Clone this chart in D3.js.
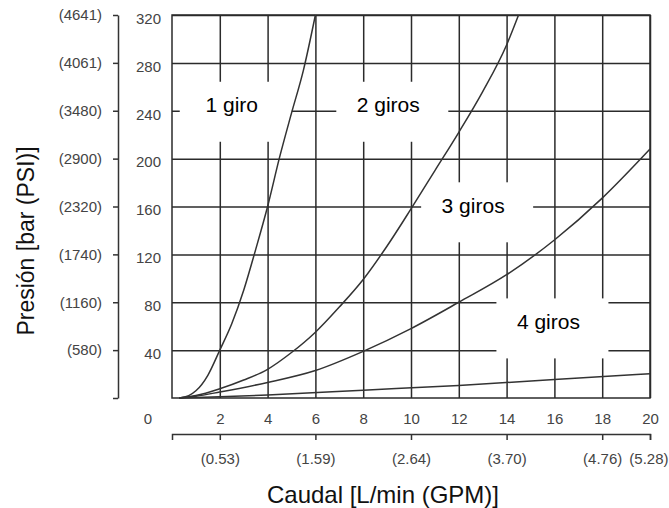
<!DOCTYPE html>
<html>
<head>
<meta charset="utf-8">
<script src="https://cdn.jsdelivr.net/npm/d3@7"></script>
<style>
  body { margin: 0; background: #fff; }
  svg { display: block; }
</style>
</head>
<body>
<svg id="chart"></svg>
<script>
// flow (L/min) vs pressure (bar) for each number of turns
const flow1 = [0.3, 0.7, 1, 1.5, 2, 2.5, 3, 3.5, 4, 4.5, 5, 5.5, 6]
const pres1 = [0, 2, 6, 19, 40, 62, 90, 124, 160, 201, 238, 274, 320]
const flow2 = [0.3, 1, 2, 3, 4, 5, 6, 7, 8, 9, 10, 11, 12, 13, 14, 14.5]
const pres2 = [0, 2, 7.7, 15, 24, 38, 55, 76, 99, 127, 158, 190, 222, 256, 295, 320]
const flow3 = [0.3, 1, 2, 4, 6, 8, 10, 12, 14, 16, 18, 20]
const pres3 = [0, 1.5, 5, 13, 23, 39, 58, 80, 103, 132, 167, 208]
const flow4 = [0.3, 2, 4, 8, 12, 16, 20]
const pres4 = [0, 1, 2.5, 6.5, 10.5, 15.5, 20.2]

const curveLabels = ["1 giro", "2 giros", "3 giros", "4 giros"]
const labelFlow = [2.5, 9.05, 12.6, 15.75] // label centre, in data units
const labelPres = [245, 245, 161, 64]

const barTicks = [40, 80, 120, 160, 200, 240, 280, 320]
const psiTicks = [0, 40, 80, 120, 160, 200, 240, 280, 320]
const psiLabels = ["", "(580)", "(1160)", "(1740)", "(2320)", "(2900)", "(3480)", "(4061)", "(4641)"]
const flowTicks = [2, 4, 6, 8, 10, 12, 14, 16, 18, 20]
const gpmTicks = [2, 6, 10, 14, 18, 20]
const gpmLabels = ["(0.53)", "(1.59)", "(2.64)", "(3.70)", "(4.76)", "(5.28)"]

const width = 669
const height = 508
const plot = { left: 172, right: 650, top: 15, bottom: 398 }

const tickFont = "'Liberation Sans', Arial, sans-serif"
const textFont = "'Liberation Sans', Arial, sans-serif"

const svg = d3.select("#chart")
    .attr("width", width)
    .attr("height", height)
    .style("background", "#fff")

const x = d3.scaleLinear().domain([0, 20]).range([plot.left, plot.right])
const y = d3.scaleLinear().domain([0, 320]).range([plot.bottom, plot.top])

// grid
svg.append("g")
    .attr("transform", `translate(0,${plot.bottom})`)
    .call(d3.axisBottom(x).tickValues(flowTicks).tickSize(-(plot.bottom - plot.top)).tickFormat(""))
    .call(g => g.select(".domain").remove())
    .selectAll("line").attr("stroke", "#2b2b2b").attr("stroke-width", 1.5)

svg.append("g")
    .attr("transform", `translate(${plot.left},0)`)
    .call(d3.axisLeft(y).tickValues(barTicks).tickSize(-(plot.right - plot.left)).tickFormat(""))
    .call(g => g.select(".domain").remove())
    .selectAll("line").attr("stroke", "#2b2b2b").attr("stroke-width", 1.5)

svg.append("rect")
    .attr("x", plot.left)
    .attr("y", plot.top)
    .attr("width", plot.right - plot.left)
    .attr("height", plot.bottom - plot.top)
    .attr("fill", "none")
    .attr("stroke", "#2b2b2b")
    .attr("stroke-width", 1.5)

// white patches behind the curve labels
const labels = curveLabels.map((t, i) => ({ text: t, cx: x(labelFlow[i]), cy: y(labelPres[i]) }))

svg.append("g").selectAll("rect")
    .data(labels)
    .enter()
    .append("rect")
    .attr("x", d => d.cx + 4 - 56)
    .attr("y", d => d.cy + 7 - 30)
    .attr("width", 112)
    .attr("height", 60)
    .attr("fill", "#fff")

// curves
const series = [[flow1, pres1], [flow2, pres2], [flow3, pres3], [flow4, pres4]]
const line = d3.line()
    .x(d => x(d[0]))
    .y(d => y(d[1]))
    .curve(d3.curveMonotoneX)

svg.append("g").selectAll("path")
    .data(series.map(s => s[0].map((f, i) => [f, s[1][i]])))
    .enter()
    .append("path")
    .attr("d", line)
    .attr("fill", "none")
    .attr("stroke", "#333")
    .attr("stroke-width", 1.5)

svg.append("g").selectAll("text")
    .data(labels)
    .enter()
    .append("text")
    .attr("x", d => d.cx)
    .attr("y", d => d.cy)
    .attr("dy", "0.35em")
    .attr("text-anchor", "middle")
    .style("font-family", textFont)
    .style("font-size", "21px")
    .attr("fill", "#000")
    .text(d => d.text)

// bar labels (no axis line)
const barAxis = svg.append("g")
    .attr("transform", `translate(${plot.left},0)`)
    .call(d3.axisLeft(y).tickValues(barTicks).tickSize(0).tickPadding(11))
barAxis.select(".domain").remove()

// PSI axis
const psiAxis = svg.append("g")
    .attr("transform", "translate(118,0)")
    .call(d3.axisLeft(y).tickValues(psiTicks).tickSize(5).tickSizeOuter(0).tickPadding(11)
        .tickFormat((d, i) => psiLabels[i]))

// L/min labels (no axis line)
const flowAxis = svg.append("g")
    .attr("transform", `translate(0,${plot.bottom})`)
    .call(d3.axisBottom(x).tickValues(flowTicks).tickSize(0).tickPadding(15))
flowAxis.select(".domain").remove()

flowAxis.append("text")
    .attr("x", x(0) - 24)
    .attr("y", 15)
    .attr("dy", "0.71em")
    .attr("text-anchor", "middle")
    .attr("fill", "currentColor")
    .text("0")

// GPM axis
const gpmAxis = svg.append("g")
    .attr("transform", "translate(0,434)")
    .call(d3.axisBottom(x).tickValues(gpmTicks).tickSize(6).tickSizeOuter(6).tickPadding(13)
        .tickFormat((d, i) => gpmLabels[i]))

for (const g of [barAxis, psiAxis, flowAxis, gpmAxis]) {
    g.selectAll("text")
        .style("font-family", tickFont)
        .style("font-size", "15px")
        .attr("fill", "#444")
    g.selectAll("line, path").attr("stroke", "#333").attr("stroke-width", 1.5)
}
barAxis.selectAll(".tick text").attr("dy", "0.55em")
// keep the last GPM label inside the picture
gpmAxis.selectAll(".tick text").filter((d, i, n) => i === n.length - 1)
    .attr("text-anchor", "end")
    .attr("dx", 18)

// titles
svg.append("text")
    .attr("transform", "translate(34,241) rotate(-90)")
    .attr("text-anchor", "middle")
    .style("font-family", textFont)
    .style("font-size", "23px")
    .attr("fill", "#111")
    .text("Presión [bar (PSI)]")

svg.append("text")
    .attr("x", 383)
    .attr("y", 503)
    .attr("text-anchor", "middle")
    .style("font-family", textFont)
    .style("font-size", "24px")
    .attr("fill", "#111")
    .text("Caudal [L/min (GPM)]")
</script>
</body>
</html>
